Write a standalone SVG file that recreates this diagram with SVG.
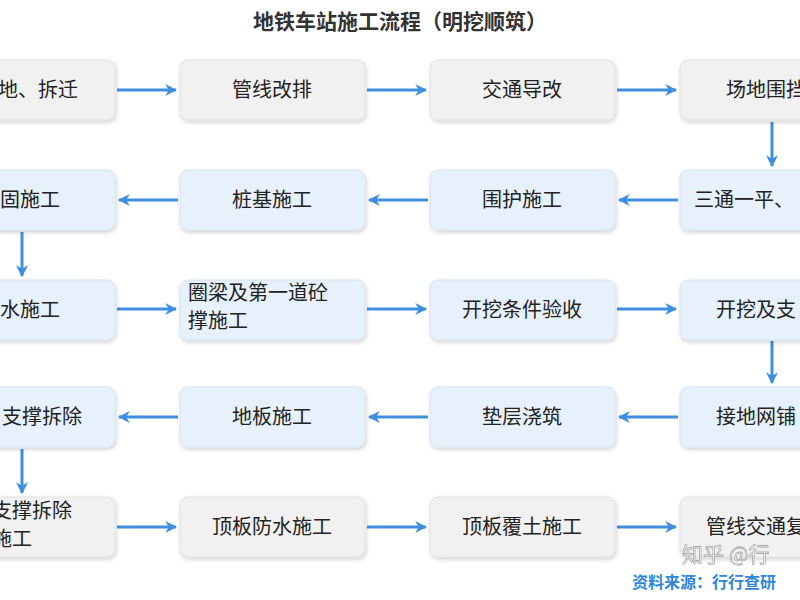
<svg xmlns="http://www.w3.org/2000/svg" width="800" height="600" viewBox="0 0 800 600">
<style>
text{font-family:"Noto Sans CJK SC","Noto Sans",sans-serif;font-size:20px;fill:#222;}
.g{fill:#f1f1f1;stroke:#e2e2e2;stroke-width:1;}
.b{fill:#e7f1fb;stroke:#d6e4f2;stroke-width:1;}
.c{stroke:#3f8fe0;stroke-width:3;fill:none;marker-end:url(#a);}
</style>
<defs>
<filter id="s" x="-10%" y="-10%" width="120%" height="130%"><feDropShadow dx="1" dy="2" stdDeviation="2" flood-color="#000" flood-opacity="0.18"/></filter>
<marker id="a" viewBox="0 0 10 10" refX="9" refY="5" markerWidth="4" markerHeight="4" orient="auto"><path d="M0,0L10,5L0,10L3,5Z" fill="#3f8fe0"/></marker>
</defs>
<rect width="800" height="600" fill="#fff"/>
<text x="400" y="29" text-anchor="middle" style="font-size:21px;font-weight:bold;fill:#333">地铁车站施工流程（明挖顺筑）</text>
<g id="connectors">
<path class="c" d="M117,90H176"/><path class="c" d="M367,90H426"/><path class="c" d="M617,90H676"/>
<path class="c" d="M772,122V166"/>
<path class="c" d="M678,200H619"/><path class="c" d="M428,200H369"/><path class="c" d="M178,200H119"/>
<path class="c" d="M22,232V276"/>
<path class="c" d="M117,309H176"/><path class="c" d="M367,309H426"/><path class="c" d="M617,309H676"/>
<path class="c" d="M772,341V383"/>
<path class="c" d="M678,417H619"/><path class="c" d="M428,417H369"/><path class="c" d="M178,417H119"/>
<path class="c" d="M22,449V493"/>
<path class="c" d="M117,527H176"/><path class="c" d="M367,527H426"/><path class="c" d="M617,527H676"/>
</g>
<g id="n1"><rect class="g" filter="url(#s)" x="-70" y="60" width="185" height="60" rx="8"/><text x="-2" y="97">地、拆迁</text></g>
<g id="n2"><rect class="g" filter="url(#s)" x="180" y="60" width="185" height="60" rx="8"/><text x="272" y="97" text-anchor="middle">管线改排</text></g>
<g id="n3"><rect class="g" filter="url(#s)" x="430" y="60" width="185" height="60" rx="8"/><text x="522" y="97" text-anchor="middle">交通导改</text></g>
<g id="n4"><rect class="g" filter="url(#s)" x="680" y="60" width="185" height="60" rx="8"/><text x="726" y="97">场地围挡</text></g>
<g id="n5"><rect class="b" filter="url(#s)" x="680" y="170" width="185" height="60" rx="8"/><text x="694" y="207">三通一平、</text></g>
<g id="n6"><rect class="b" filter="url(#s)" x="430" y="170" width="185" height="60" rx="8"/><text x="522" y="207" text-anchor="middle">围护施工</text></g>
<g id="n7"><rect class="b" filter="url(#s)" x="180" y="170" width="185" height="60" rx="8"/><text x="272" y="207" text-anchor="middle">桩基施工</text></g>
<g id="n8"><rect class="b" filter="url(#s)" x="-70" y="170" width="185" height="60" rx="8"/><text x="0" y="207">固施工</text></g>
<g id="n9"><rect class="b" filter="url(#s)" x="-70" y="280" width="185" height="60" rx="8"/><text x="0" y="317">水施工</text></g>
<g id="n10"><rect class="b" filter="url(#s)" x="180" y="280" width="185" height="60" rx="8"/><text x="188" y="300">圈梁及第一道砼</text><text x="188" y="328">撑施工</text></g>
<g id="n11"><rect class="b" filter="url(#s)" x="430" y="280" width="185" height="60" rx="8"/><text x="522" y="317" text-anchor="middle">开挖条件验收</text></g>
<g id="n12"><rect class="b" filter="url(#s)" x="680" y="280" width="185" height="60" rx="8"/><text x="716" y="317">开挖及支</text></g>
<g id="n13"><rect class="b" filter="url(#s)" x="680" y="387" width="185" height="60" rx="8"/><text x="716" y="424">接地网铺</text></g>
<g id="n14"><rect class="b" filter="url(#s)" x="430" y="387" width="185" height="60" rx="8"/><text x="522" y="424" text-anchor="middle">垫层浇筑</text></g>
<g id="n15"><rect class="b" filter="url(#s)" x="180" y="387" width="185" height="60" rx="8"/><text x="272" y="424" text-anchor="middle">地板施工</text></g>
<g id="n16"><rect class="b" filter="url(#s)" x="-70" y="387" width="185" height="60" rx="8"/><text x="2" y="424">支撑拆除</text></g>
<g id="n17"><rect class="g" filter="url(#s)" x="-70" y="497" width="185" height="60" rx="8"/><text x="-8" y="518">支撑拆除</text><text x="-8" y="546">施工</text></g>
<g id="n18"><rect class="g" filter="url(#s)" x="180" y="497" width="185" height="60" rx="8"/><text x="272" y="534" text-anchor="middle">顶板防水施工</text></g>
<g id="n19"><rect class="g" filter="url(#s)" x="430" y="497" width="185" height="60" rx="8"/><text x="522" y="534" text-anchor="middle">顶板覆土施工</text></g>
<g id="n20"><rect class="g" filter="url(#s)" x="680" y="497" width="185" height="60" rx="8"/><text x="706" y="534">管线交通复</text></g>
<text x="682" y="562" style="font-size:21px;fill:#fff;stroke:#999;stroke-width:0.8;opacity:0.8">知乎 @行</text>
<text x="632" y="588" style="font-size:16px;font-weight:bold;fill:#2f86d8">资料来源：行行查研</text>
</svg>
